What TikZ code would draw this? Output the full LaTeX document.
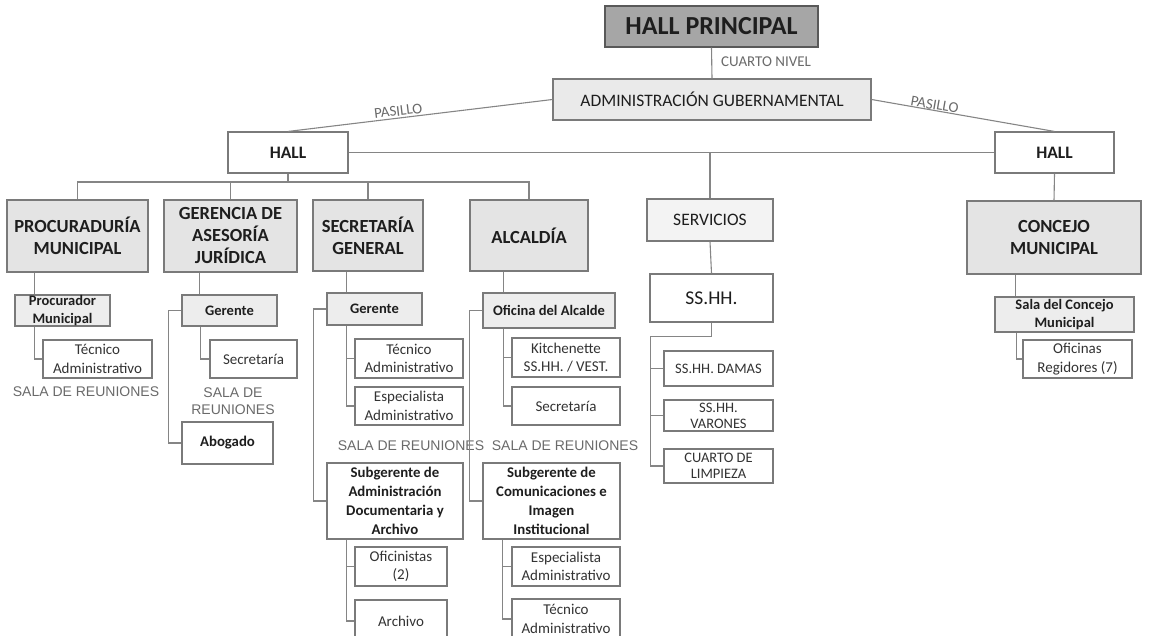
\documentclass[tikz,border=0pt]{standalone}
\usepackage{fontspec}
\setmainfont{Carlito}
\newfontfamily\salafont{Liberation Sans}
\definecolor{bordc}{HTML}{7A7A7A}
\definecolor{linec}{HTML}{858585}
\definecolor{darkfill}{HTML}{A6A6A6}
\definecolor{admfill}{HTML}{EAEAEA}
\definecolor{mainfill}{HTML}{E4E4E4}
\definecolor{subfill}{HTML}{EDEDED}
\definecolor{servfill}{HTML}{F3F3F3}
\definecolor{txtc}{HTML}{1E1E1E}
\definecolor{smalltxt}{HTML}{333333}
\definecolor{labc}{HTML}{6A6A6A}
\newcommand{\Bx}[7]{\node[#2, minimum width={#5-#3}, minimum height={#6-#4}] (#1) at ({(#3+#5)/2},{(#4+#6)/2}) {#7};}
\begin{document}
\begin{tikzpicture}[x=1pt,y=-1pt,
  box/.style={draw=bordc, line width=1.1pt, inner sep=0pt, align=center, text=txtc, fill=white},
  toptitle/.style={box, fill=darkfill, draw=black!65, font=\fontsize{26}{30}\selectfont\bfseries},
  admbox/.style={box, fill=admfill, font=\fontsize{17.5}{20}\selectfont},
  hallbox/.style={box, font=\fontsize{17.5}{20}\selectfont\bfseries},
  mainbox/.style={box, fill=mainfill, font=\fontsize{18.5}{22}\selectfont\bfseries},
  servbox/.style={box, fill=servfill, font=\fontsize{17.5}{20}\selectfont},
  sshbox/.style={box, font=\fontsize{19.5}{22}\selectfont},
  headbox/.style={box, fill=subfill, font=\fontsize{14.5}{17.5}\selectfont\bfseries},
  boldbox/.style={box, font=\fontsize{14.8}{19}\selectfont\bfseries},
  smallbox/.style={box, text=smalltxt, font=\fontsize{15}{18.5}\selectfont},
  tinybox/.style={box, text=smalltxt, font=\fontsize{14.5}{16}\selectfont},
  conn/.style={draw=linec, line width=1.1pt},
  lab/.style={text=labc, font=\fontsize{15}{17}\selectfont, inner sep=1pt},
  sala/.style={text=labc, font=\salafont\fontsize{14}{17}\selectfont, align=center, inner sep=0pt}
]
\useasboundingbox (0,0) rectangle (1153,636);
\clip (0,0) rectangle (1153,636);

% top
\Bx{hp}{toptitle}{605}{6}{818}{47}{HALL PRINCIPAL}
\Bx{adm}{admbox}{553}{79}{871}{120}{ADMINISTRACIÓN GUBERNAMENTAL}
\Bx{hallL}{hallbox}{228}{132}{348}{173}{HALL}
\Bx{hallR}{hallbox}{995}{132}{1114}{173}{HALL}

% main branches
\Bx{proc}{mainbox}{7}{200}{148}{272}{PROCURADURÍA\\MUNICIPAL}
\Bx{ger}{mainbox}{164}{200}{297}{272}{GERENCIA DE\\ASESORÍA\\JURÍDICA}
\Bx{sec}{mainbox}{313}{200}{423}{271}{SECRETARÍA\\GENERAL}
\Bx{alc}{mainbox}{470}{200}{588}{271}{ALCALDÍA}
\Bx{serv}{servbox}{647}{199}{773}{241}{SERVICIOS}
\Bx{con}{mainbox}{967}{201}{1141}{274}{CONCEJO\\MUNICIPAL}

% procuraduria
\Bx{procm}{headbox}{15}{295}{110}{326}{Procurador\\Municipal}
\Bx{tec1}{smallbox}{43}{340}{152}{378}{Técnico\\Administrativo}
\node[sala] (sala1) at (86,392) {SALA DE REUNIONES};

% gerencia
\Bx{gerG}{headbox}{182}{295}{277}{326}{Gerente}
\Bx{secr1}{smallbox}{210}{340}{297}{378}{Secretaría}
\node[sala] (sala2) at (233,401) {SALA DE\\REUNIONES};
\Bx{abog}{boldbox}{182}{422}{273}{464}{Abogado}

% secretaria general
\Bx{secG}{headbox}{327}{293}{422}{325}{Gerente}
\Bx{tec2}{smallbox}{355}{339}{463}{378}{Técnico\\Administrativo}
\Bx{esp2}{smallbox}{355}{387}{463}{425}{Especialista\\Administrativo}
\node[sala] (sala3) at (411,446) {SALA DE REUNIONES};
\Bx{sub1}{boldbox}{327}{463}{463}{539}{Subgerente de\\Administración\\Documentaria y\\Archivo}
\Bx{ofi}{smallbox}{355}{547}{447}{586}{Oficinistas\\(2)}
\Bx{arch}{smallbox}{355}{600}{447}{642}{Archivo}

% alcaldia
\Bx{ofa}{headbox}{483}{293}{615}{328}{Oficina del Alcalde}
\Bx{kit}{smallbox}{512}{338}{620}{377}{Kitchenette\\SS.HH. / VEST.}
\Bx{secr2}{smallbox}{512}{387}{620}{425}{Secretaría}
\node[sala] (sala4) at (565,446) {SALA DE REUNIONES};
\Bx{sub2}{boldbox}{483}{463}{620}{539}{Subgerente de\\Comunicaciones e\\Imagen\\Institucional}
\Bx{esp3}{smallbox}{512}{547}{620}{586}{Especialista\\Administrativo}
\Bx{tec3}{smallbox}{512}{599}{620}{639}{Técnico\\Administrativo}

% servicios
\Bx{ssh}{sshbox}{650}{274}{773}{322}{SS.HH.}
\Bx{damas}{tinybox}{664}{351}{773}{386}{SS.HH. DAMAS}
\Bx{varones}{tinybox}{664}{400}{773}{431}{SS.HH.\\VARONES}
\Bx{cuarto}{tinybox}{664}{449}{773}{483}{CUARTO DE\\LIMPIEZA}

% concejo
\Bx{salaC}{headbox}{995}{297}{1134}{332}{Sala del Concejo\\Municipal}
\Bx{ofiR}{smallbox}{1023}{340}{1132}{378}{Oficinas\\Regidores (7)}

% connectors top
\draw[conn] (hp.south) -- (adm.north);
\node[lab, anchor=west] (cn) at (720,62) {CUARTO NIVEL};
\draw[conn] (adm.west) -- (hallL.north) node[lab, pos=0.58, sloped, above, inner sep=1.5pt] {PASILLO};
\draw[conn] (adm.east) -- (hallR.north) node[lab, pos=0.34, sloped, above, inner sep=0.2pt] {PASILLO};
\draw[conn] (hallL.east) -- (hallR.west);
\draw[conn] (serv.north) -- (serv.north |- hallL.east);
\draw[conn] (hallR.south) -- (con.north);

% left bus
\coordinate (busL) at (0,182);
\draw[conn] (hallL.south) -- (hallL.south |- busL);
\draw[conn] (proc.north) |- (busL -| alc.north) -- (alc.north);
\draw[conn] (ger.north) -- (ger.north |- busL);
\draw[conn] (sec.north) -- (sec.north |- busL);

% procuraduria
\draw[conn] ([xshift=20pt]procm.north west) -- ([xshift=20pt]procm.north west |- proc.south);
\draw[conn] ([xshift=20pt]procm.south west) |- (tec1.west);

% gerencia
\draw[conn] ([xshift=18pt]gerG.north west) -- ([xshift=18pt]gerG.north west |- ger.south);
\draw[conn] ([xshift=19pt]gerG.south west) |- (secr1.west);
\draw[conn] (gerG.west) -- ++(-13,0) |- (abog.west);

% secretaria
\draw[conn] ([xshift=20pt]secG.north west) -- ([xshift=20pt]secG.north west |- sec.south);
\draw[conn] ([xshift=20pt]secG.south west) |- (tec2.west);
\draw[conn] ([xshift=20pt]secG.south west) |- (esp2.west);
\draw[conn] (secG.west) -- ++(-13,0) |- (sub1.west);
\draw[conn] ([xshift=20pt]sub1.south west) |- (ofi.west);
\draw[conn] ([xshift=20pt]sub1.south west) |- (arch.west);

% alcaldia
\draw[conn] ([xshift=21pt]ofa.north west) -- ([xshift=21pt]ofa.north west |- alc.south);
\draw[conn] ([xshift=21pt]ofa.south west) |- (kit.west);
\draw[conn] ([xshift=21pt]ofa.south west) |- (secr2.west);
\draw[conn] (ofa.west) -- ++(-13,0) |- (sub2.west);
\draw[conn] ([xshift=20pt]sub2.south west) |- (esp3.west);
\draw[conn] ([xshift=20pt]sub2.south west) |- (tec3.west);

% servicios
\draw[conn] (serv.south) -- (ssh.north);
\draw[conn] (ssh.south) -- ++(0,14) -| ([xshift=-13pt]cuarto.west) -- (cuarto.west);
\draw[conn] ([xshift=-13pt]damas.west) -- (damas.west);
\draw[conn] ([xshift=-13pt]varones.west) -- (varones.west);

% concejo
\draw[conn] ([xshift=21pt]salaC.north west) -- ([xshift=21pt]salaC.north west |- con.south);
\draw[conn] ([xshift=22pt]salaC.south west) |- (ofiR.west);
\end{tikzpicture}
\end{document}
